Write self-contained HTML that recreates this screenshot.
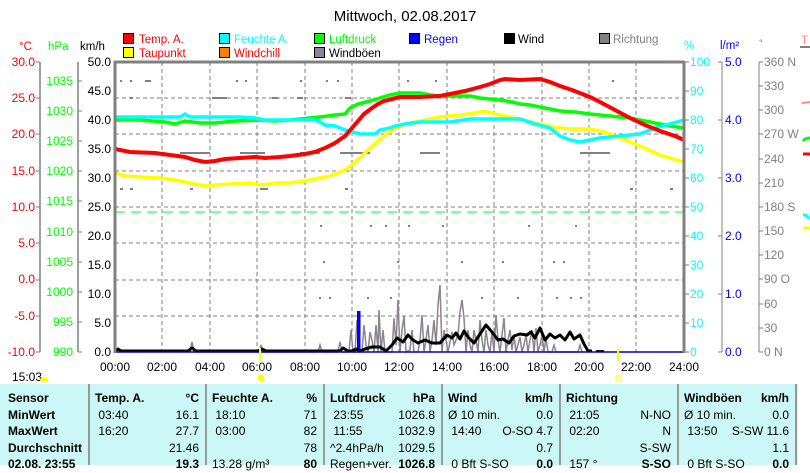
<!DOCTYPE html>
<html><head><meta charset="utf-8"><style>
body{margin:0;background:#fff;width:810px;height:465px;overflow:hidden;font-family:"Liberation Sans",sans-serif}
svg{position:absolute;left:0;top:0}
.tb{position:absolute;left:0;top:384px;width:798px;height:81px;background:#ccf7f7}
.c{position:absolute;top:384px;height:81px;font-size:12px;color:#000}
.c div{height:16.5px;line-height:16px;position:relative;white-space:nowrap}
.r{position:absolute;right:6px;top:0}
.b{font-weight:bold}
.sep{position:absolute;top:384px;width:2px;height:81px;background:#999}
</style></head><body>
<svg width="810" height="465" font-family="Liberation Sans, sans-serif">
<text x="405" y="21" font-size="15" text-anchor="middle">Mittwoch, 02.08.2017</text>
<g font-size="11.5">
<rect x="123.5" y="33.5" width="10" height="10" fill="#f00" stroke="#000"/><text x="139" y="43" fill="#f00">Temp. A.</text>
<rect x="123.5" y="47.5" width="10" height="10" fill="#ff0" stroke="#000"/><text x="139" y="57" fill="#f00">Taupunkt</text>
<rect x="219.5" y="33.5" width="10" height="10" fill="#0ff" stroke="#000"/><text x="234" y="43" fill="#0ff">Feuchte A.</text>
<rect x="219.5" y="47.5" width="10" height="10" fill="#ff8000" stroke="#000"/><text x="234" y="57" fill="#f00">Windchill</text>
<rect x="314.5" y="33.5" width="10" height="10" fill="#0f0" stroke="#000"/><text x="329" y="43" fill="#0f0">Luftdruck</text>
<rect x="314.5" y="47.5" width="10" height="10" fill="#8c8490" stroke="#000"/><text x="329" y="57">Windböen</text>
<rect x="409.5" y="33.5" width="10" height="10" fill="#00f" stroke="#000"/><text x="424" y="43" fill="#00f">Regen</text>
<rect x="504.5" y="33.5" width="10" height="10" fill="#000" stroke="#000"/><text x="518" y="43">Wind</text>
<rect x="599.5" y="33.5" width="10" height="10" fill="#808080" stroke="#000"/><text x="613" y="43" fill="#808080">Richtung</text>
</g>
<g font-size="11.5">
<text x="19" y="50" fill="#f00">°C</text><text x="48" y="50" fill="#0f0">hPa</text><text x="80" y="50">km/h</text>
<text x="684" y="49" fill="#0ff">%</text><text x="720" y="49" fill="#00f">l/m²</text><text x="759" y="46" fill="#808080" font-size="9">°</text>
<text x="801" y="44" fill="#f88">T</text>
</g>
<g stroke="#808080" stroke-width="1.5"><line x1="40" y1="62" x2="40" y2="352"/><line x1="78" y1="62" x2="78" y2="352"/></g>
<g font-size="12" fill="#f00" text-anchor="end">
<text x="35" y="66">30.0</text><text x="35" y="102">25.0</text><text x="35" y="138">20.0</text><text x="35" y="175">15.0</text><text x="35" y="211">10.0</text><text x="35" y="247">5.0</text><text x="35" y="283">0.0</text><text x="35" y="320">-5.0</text><text x="35" y="356">-10.0</text></g>
<g stroke="#808080"><path d="M36 62h4M36 98h4M36 134h4M36 171h4M36 207h4M36 243h4M36 280h4M36 316h4M36 352h4M78 81h4M78 111h4M78 141h4M78 171h4M78 201h4M78 232h4M78 262h4M78 292h4M78 322h4M78 352h4"/></g>
<g font-size="12" fill="#0f0" text-anchor="end">
<text x="73" y="85">1035</text><text x="73" y="115">1030</text><text x="73" y="145">1025</text><text x="73" y="175">1020</text><text x="73" y="205">1015</text><text x="73" y="236">1010</text><text x="73" y="266">1005</text><text x="73" y="296">1000</text><text x="73" y="326">995</text><text x="73" y="356">990</text></g>
<g font-size="12" text-anchor="end">
<text x="111" y="66">50.0</text><text x="111" y="95">45.0</text><text x="111" y="124">40.0</text><text x="111" y="153">35.0</text><text x="111" y="182">30.0</text><text x="111" y="211">25.0</text><text x="111" y="240">20.0</text><text x="111" y="269">15.0</text><text x="111" y="298">10.0</text><text x="111" y="327">5.0</text><text x="111" y="356">0.0</text></g>
<g stroke="#808080" stroke-dasharray="4,3" stroke-width="1">
<path d="M162 62V352M210 62V352M257 62V352M305 62V352M352 62V352M399 62V352M447 62V352M494 62V352M542 62V352M589 62V352M636 62V352"/>
<path d="M115 98H684M115 134H684M115 171H684M115 207H684M115 243H684M115 280H684M115 316H684"/>
</g>
<line x1="115" y1="212" x2="684" y2="212" stroke="#0f0" stroke-dasharray="10,6"/>
<g fill="#808080">
<rect x="120" y="80" width="2" height="2"/><rect x="130" y="80" width="2" height="2"/><rect x="145" y="80" width="6" height="2"/><rect x="236" y="80" width="2" height="2"/><rect x="245" y="80" width="2" height="2"/><rect x="300" y="80" width="2" height="2"/><rect x="326" y="80" width="2" height="2"/><rect x="337" y="80" width="2" height="2"/><rect x="407" y="80" width="2" height="2"/><rect x="435" y="80" width="2" height="2"/><rect x="612" y="80" width="2" height="2"/>
<rect x="212" y="97" width="15" height="2"/><rect x="272" y="97" width="6" height="2"/><rect x="297" y="97" width="6" height="2"/><rect x="345" y="97" width="6" height="2"/><rect x="130" y="97" width="3" height="2"/>
<rect x="180" y="152" width="30" height="2"/><rect x="240" y="152" width="25" height="2"/><rect x="300" y="152" width="20" height="2"/><rect x="340" y="152" width="30" height="2"/><rect x="420" y="152" width="20" height="2"/><rect x="580" y="152" width="30" height="2"/>
<rect x="120" y="188" width="3" height="2"/><rect x="130" y="188" width="3" height="2"/><rect x="190" y="188" width="3" height="2"/><rect x="260" y="188" width="8" height="2"/><rect x="345" y="188" width="3" height="2"/><rect x="630" y="188" width="3" height="2"/><rect x="670" y="188" width="3" height="2"/>
<rect x="320" y="225" width="2" height="2"/><rect x="370" y="225" width="2" height="2"/><rect x="385" y="225" width="2" height="2"/><rect x="408" y="225" width="2" height="2"/><rect x="442" y="225" width="2" height="2"/><rect x="528" y="225" width="2" height="2"/><rect x="575" y="225" width="2" height="2"/>
<rect x="323" y="261" width="2" height="2"/><rect x="397" y="261" width="2" height="2"/><rect x="461" y="261" width="2" height="2"/><rect x="502" y="261" width="2" height="2"/><rect x="553" y="261" width="2" height="2"/><rect x="563" y="261" width="2" height="2"/>
<rect x="319" y="297" width="2" height="2"/><rect x="329" y="297" width="2" height="2"/><rect x="367" y="297" width="2" height="2"/><rect x="390" y="297" width="2" height="2"/><rect x="481" y="297" width="2" height="2"/><rect x="517" y="297" width="2" height="2"/><rect x="556" y="297" width="2" height="2"/><rect x="570" y="297" width="2" height="2"/><rect x="580" y="297" width="2" height="2"/>
</g>
<polyline fill="none" stroke="#8c8490" stroke-width="1.5" points="190,352 192,342 194,352 260,352 261,345 263,352 318,352 320,345 322,352 338,352 340,342 342,352 349,352 351,330 353,352 355,352 357,320 359,352 362,352 364,325 366,345 368,352 370,332 372,340 374,352 376,325 378,352 379,310 381,352 383,330 385,352 392,352 394,318 396,345 398,300 400,352 402,330 404,316 406,352 410,350 412,330 414,352 418,352 420,340 422,315 424,352 426,340 428,325 430,352 432,340 434,320 436,345 438,305 440,285 442,352 444,330 446,340 448,352 452,332 454,345 458,335 460,312 462,300 464,318 466,352 468,330 470,345 472,352 474,330 476,340 478,352 480,320 482,340 484,352 486,330 488,345 490,352 492,332 494,352 496,315 498,340 500,352 502,335 504,318 506,352 508,340 510,330 512,350 514,335 516,352 520,337 522,352 524,345 526,335 528,352 530,340 532,330 534,352 536,328 538,352 540,345 542,335 544,352 546,338 548,352 552,352 554,345 556,352 578,352 580,345 582,352"/>
<rect x="357" y="311" width="3.5" height="41" fill="#00f"/>
<polyline fill="none" stroke="#000" stroke-width="3" stroke-linejoin="round" points="115,351 118,349 121,351 188,351 192,348 196,351 258,351 262,349 266,351 330,351 340,351 343,348 348,351 352,351 356,349 360,351 365,349 372,347 380,347 386,351 392,345 397,338 403,342 408,335 413,340 418,343 425,340 432,343 440,343 447,335 452,338 456,333 460,339 464,331 468,337 474,343 480,334 486,325 492,332 498,340 503,339 509,343 514,336 520,334 527,335 531,332 535,338 540,328 545,340 550,334 555,338 560,335 565,340 570,332 574,339 580,335 584,344 588,351 592,351"/>
<path d="M596 351h8" stroke="#000" stroke-width="2"/>
<line x1="115" y1="352" x2="684" y2="352" stroke="#00c" stroke-width="1.5"/>
<polyline fill="none" stroke="#ff0" stroke-width="3.5" points="115,173 125,176 140,177 160,178 175,180 190,183 205,186 215,185 230,184 250,183 262,185 275,183 290,183 305,181 320,178 330,176 338,173 345,170 352,165 360,158 368,150 376,143 384,136 392,130 400,126 410,123 425,120 440,117 460,115 475,113 484,111 494,114 505,116 520,119 535,123 552,127 570,129 590,129 605,132 620,138 640,146 660,155 684,162"/>
<polyline fill="none" stroke="#0f0" stroke-width="3.5" points="115,120 140,120 165,122 175,124 185,121 200,123 215,123 235,121 260,120 275,121 290,120 310,118 320,117 335,115 345,114 350,108 358,104 370,101 380,98 390,95 400,93 420,93 430,95 440,96 455,96 470,96 480,98 490,99 500,100 512,102 520,104 530,105 545,108 560,111 575,112 590,114 610,116 630,118 650,122 670,126 684,128"/>
<polyline fill="none" stroke="#0ff" stroke-width="3.5" points="115,117 180,117 185,114 190,117 240,117 255,118 265,120 275,120 295,120 315,120 320,122 325,125 335,126 345,130 360,134 375,134 380,130 390,128 395,126 405,124 420,122 450,122 470,119 520,119 535,124 550,128 560,136 570,140 580,142 590,140 600,138 610,137 620,136 640,134 655,128 670,124 684,120"/>
<polyline fill="none" stroke="#f00" stroke-width="4" points="115,149 130,152 155,153 170,155 185,157 195,160 205,162 215,161 225,159 240,158 255,157 265,158 280,157 290,156 305,154 315,152 325,148 335,143 345,136 352,128 358,121 364,114 372,108 378,104 384,101 392,99 400,97 420,97 440,96 455,93 465,91 480,87 490,84 500,80 505,79 520,80 540,79 550,82 560,86 572,90 590,97 600,102 615,110 630,118 645,125 660,131 675,136 684,140"/>
<g stroke="#808080" stroke-width="3" fill="none"><line x1="114" y1="62" x2="684" y2="62"/><line x1="115" y1="61" x2="115" y2="353"/><line x1="684" y1="61" x2="684" y2="353"/></g>
<g stroke="#808080"><line x1="722" y1="62" x2="722" y2="352"/><line x1="759" y1="62" x2="759" y2="352"/>
<path d="M684 62h5M684 91h5M684 120h5M684 149h5M684 178h5M684 207h5M684 236h5M684 265h5M684 294h5M684 323h5M684 352h5M718 62h4M718 120h4M718 178h4M718 236h4M718 294h4M718 352h4M759 62h4M759 86h4M759 110h4M759 134h4M759 159h4M759 183h4M759 207h4M759 231h4M759 255h4M759 279h4M759 304h4M759 328h4M759 352h4"/></g>
<g font-size="12" fill="#0ff"><text x="690" y="66">100</text><text x="690" y="95">90</text><text x="690" y="124">80</text><text x="690" y="153">70</text><text x="690" y="182">60</text><text x="690" y="211">50</text><text x="690" y="240">40</text><text x="690" y="269">30</text><text x="690" y="298">20</text><text x="690" y="327">10</text><text x="690" y="356">0</text></g>
<g font-size="12" fill="#00f"><text x="725" y="66">5.0</text><text x="725" y="124">4.0</text><text x="725" y="182">3.0</text><text x="725" y="240">2.0</text><text x="725" y="298">1.0</text><text x="725" y="356">0.0</text></g>
<g font-size="12" fill="#808080"><text x="764" y="66">360 N</text><text x="764" y="90">330</text><text x="764" y="114">300</text><text x="764" y="138">270 W</text><text x="764" y="163">240</text><text x="764" y="187">210</text><text x="764" y="211">180 S</text><text x="764" y="235">150</text><text x="764" y="259">120</text><text x="764" y="283">90  O</text><text x="764" y="308">60</text><text x="764" y="332">30</text><text x="764" y="356">0    N</text></g>
<g stroke-width="3"><path d="M802 103l8-1" stroke="#f88" stroke-width="2"/><path d="M803 141q2-3 7-3" stroke="#0f0" fill="none"/><path d="M803 154h7" stroke="#f00"/><path d="M803 215q6 0 5 4" stroke="#0ff" fill="none"/><path d="M803 228h7" stroke="#ff0"/></g>
<path d="M800 47h10" stroke="#808080" stroke-width="2"/>
<g font-size="12" text-anchor="middle"><text x="115" y="371">00:00</text><text x="162" y="371">02:00</text><text x="210" y="371">04:00</text><text x="257" y="371">06:00</text><text x="305" y="371">08:00</text><text x="352" y="371">10:00</text><text x="399" y="371">12:00</text><text x="447" y="371">14:00</text><text x="494" y="371">16:00</text><text x="542" y="371">18:00</text><text x="589" y="371">20:00</text><text x="636" y="371">22:00</text><text x="684" y="371">24:00</text></g>
<line x1="260" y1="348" x2="260" y2="361" stroke="#ff0" stroke-width="2"/><line x1="618" y1="348" x2="618" y2="361" stroke="#ff0" stroke-width="2"/>
<circle cx="261" cy="378" r="3.5" fill="#ff0"/><rect x="616" y="376" width="5" height="5" fill="none" stroke="#ff0"/>
<text x="12" y="381" font-size="12">15:03</text><path d="M40 381a4 4 0 0 1 8 0z" fill="#ff0"/>
</svg>
<div class="tb"></div>
<div class="sep" style="left:88px"></div><div class="sep" style="left:205px"></div><div class="sep" style="left:323px"></div><div class="sep" style="left:441px"></div><div class="sep" style="left:559px"></div><div class="sep" style="left:677px"></div><div class="sep" style="left:795px"></div>
<div class="c b" style="left:8px;width:80px;top:390px"><div>Sensor</div><div>MinWert</div><div>MaxWert</div><div>Durchschnitt</div><div>02.08. 23:55</div></div>
<div class="c" style="left:95px;width:110px;top:390px"><div class="b">Temp. A.<span class="r">°C</span></div><div>&nbsp;03:40<span class="r">16.1</span></div><div>&nbsp;16:20<span class="r">27.7</span></div><div><span class="r">21.46</span></div><div><span class="r b">19.3</span></div></div>
<div class="c" style="left:212px;width:111px;top:390px"><div class="b">Feuchte A.<span class="r">%</span></div><div>&nbsp;18:10<span class="r">71</span></div><div>&nbsp;03:00<span class="r">82</span></div><div><span class="r">78</span></div><div>13.28 g/m³<span class="r b">80</span></div></div>
<div class="c" style="left:330px;width:111px;top:390px"><div class="b">Luftdruck<span class="r">hPa</span></div><div>&nbsp;23:55<span class="r">1026.8</span></div><div>&nbsp;11:55<span class="r">1032.9</span></div><div>^2.4hPa/h<span class="r">1029.5</span></div><div>Regen+ver.<span class="r b">1026.8</span></div></div>
<div class="c" style="left:448px;width:111px;top:390px"><div class="b">Wind<span class="r">km/h</span></div><div>Ø 10 min.<span class="r">0.0</span></div><div>&nbsp;14:40<span class="r">O-SO 4.7</span></div><div><span class="r">0.7</span></div><div>&nbsp;0 Bft S-SO<span class="r b">0.0</span></div></div>
<div class="c" style="left:566px;width:111px;top:390px"><div class="b">Richtung</div><div>&nbsp;21:05<span class="r">N-NO</span></div><div>&nbsp;02:20<span class="r">N</span></div><div><span class="r">S-SW</span></div><div>&nbsp;157 °<span class="r b">S-SO</span></div></div>
<div class="c" style="left:684px;width:111px;top:390px"><div class="b">Windböen<span class="r">km/h</span></div><div>Ø 10 min.<span class="r">0.0</span></div><div>&nbsp;13:50<span class="r">S-SW 11.6</span></div><div><span class="r">1.1</span></div><div>&nbsp;0 Bft S-SO<span class="r b">0.0</span></div></div>
</body></html>
